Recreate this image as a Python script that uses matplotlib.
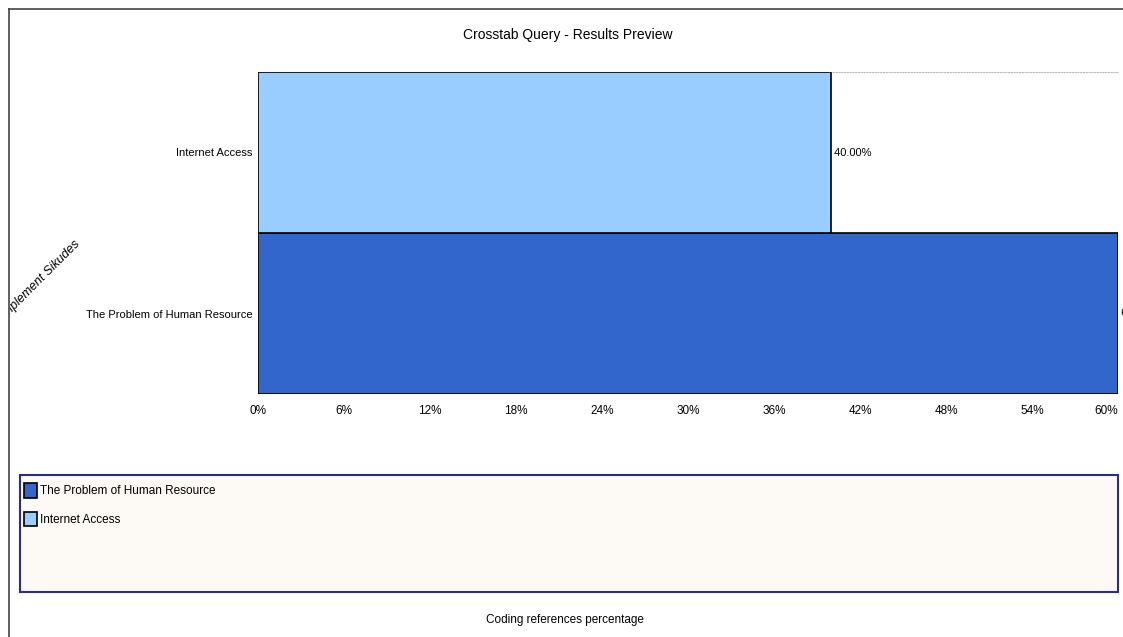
import matplotlib
matplotlib.use("Agg")
import matplotlib.pyplot as plt
from matplotlib.patches import Rectangle, Patch
from matplotlib.lines import Line2D

plt.rcParams['font.family'] = ['Liberation Sans Narrow', 'Liberation Sans', 'DejaVu Sans']

# data
categories = ["The Problem of Human Resource", "Internet Access"]
values = [60.0, 40.0]
colors = ["#3366CC", "#99CCFF"]
ticks = [0, 6, 12, 18, 24, 30, 36, 42, 48, 54, 60]

W, H = 1123, 637
fig = plt.figure(figsize=(W / 100, H / 100), dpi=100)

def fx(px):
    return px / W

def fy(py):
    return 1 - py / H

# outer frame (top and left)
fig.add_artist(Line2D([fx(9), 1], [fy(9), fy(9)], color="#444444", lw=1.2))
fig.add_artist(Line2D([fx(9), fx(9)], [fy(9), 0], color="#444444", lw=1.2))

ax = fig.add_axes([fx(258), fy(394), fx(1118) - fx(258), fy(72) - fy(394)])
ypos = list(range(len(categories)))
bars = ax.barh(ypos, values, height=1.0, color=colors, edgecolor="black",
               linewidth=1.2, zorder=3)
ax.set_xlim(0, 60)
ax.set_ylim(-0.5, len(categories) - 0.5)

for s in ["left", "right", "bottom"]:
    ax.spines[s].set_visible(False)
ax.spines["top"].set_color("#BBBBBB")
ax.spines["top"].set_linestyle((0, (1, 1.5)))
ax.spines["top"].set_linewidth(0.8)

ax.set_xticks(ticks)
ax.set_xticklabels([f"{t}%" for t in ticks], fontsize=8.5)
ax.get_xticklabels()[-1].set_horizontalalignment("right")
ax.tick_params(axis="x", length=0, pad=8)
ax.set_yticks(ypos)
ax.set_yticklabels(categories, fontsize=8)
ax.tick_params(axis="y", length=0, pad=4)

for b, v in zip(bars, values):
    ax.text(b.get_width(), b.get_y() + b.get_height() / 2, f" {v:.2f}%",
            va="center", ha="left", fontsize=8, clip_on=False)

fig.text(fx(568), fy(35), "Crosstab Query - Results Preview", ha="center",
         va="center", fontsize=10)
fig.text(fx(565), fy(620), "Coding references percentage", ha="center",
         va="center", fontsize=8.5)

# rotated y label, clipped at the frame
ov = fig.add_axes([fx(10), 0, 1 - fx(10), 1])
ov.set_axis_off()
ov.set_xlim(fx(10), 1)
ov.set_ylim(0, 1)
ov.text(fx(40), fy(280), "Implement Sikudes", rotation=45, ha="center",
        va="center", fontsize=9, style="italic", clip_on=True)

# legend box
fig.add_artist(Rectangle((fx(20), fy(592)), fx(1118) - fx(20), fy(475) - fy(592),
                         facecolor="#FDF9F5", edgecolor="#2B2B8F", lw=1.5))
handles = [Patch(facecolor=c, edgecolor="black", linewidth=1.2) for c in colors]
fig.legend(handles, categories, loc="upper left",
           bbox_to_anchor=(fx(22), fy(481)), frameon=False, fontsize=8.5,
           handlelength=1.1, handleheight=1.5, handletextpad=0.2,
           labelspacing=1.2, borderaxespad=0, borderpad=0.2)

fig.savefig("out.png", dpi=100)
